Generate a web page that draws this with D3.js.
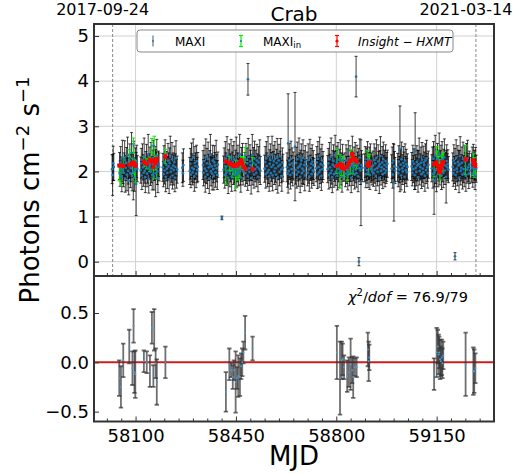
<!DOCTYPE html>
<html><head><meta charset="utf-8">
<script src="https://cdn.jsdelivr.net/npm/d3@7"></script>
<style>body{margin:0;background:#fff}svg{display:block;font-family:"DejaVu Sans",sans-serif}</style>
</head><body><svg id="c" width="531" height="474"></svg>
<script>
// ---------------- DATA ----------------
const title = "Crab";
const dateLabels = ["2017-09-24", "2021-03-14"];
const dateMJD = [58020, 59287];
const xTicks = [58100, 58450, 58800, 59150];
const xMinor = [57950,58000,58050,58150,58200,58250,58300,58350,58400,58500,58550,58600,58650,58700,58750,58850,58900,58950,59000,59050,59100,59200,59250,59300,59350];
const yTicksTop = [0,1,2,3,4,5];
const yTicksBot = [-0.5,0,0.5];
const chiText = "76.9/79";

// MAXI daily light curve: observing windows (start MJD), 2-day cadence
const maxiStep = 2;
const maxiSegStart = [58018,58044,58118,58195,58263,58289,58335,58407,58481,58550,58628,58656,58698,58730,58770,58830,58899,58928,58993,59014,59063,59133,59206,59272];
const maxiFlux = [
 [2.05,1.92,2.18,2.10],
 [2.12,1.95,2.20,2.05,1.88,2.31,2.02,1.97,2.15,2.26,1.84,2.08,2.19,1.93,2.36,2.01,1.79,2.11,2.24,1.96,2.07,2.41,1.90,2.14,1.99,2.28,1.86,2.03,2.17,1.72,2.22,2.06],
 [2.03,2.18,1.91,2.25,2.09,1.97,2.33,2.01,1.87,2.14,2.22,1.95,2.06,2.38,1.83,2.11,2.19,1.99,2.27,2.04,1.92,2.16,2.30,1.89,2.08,2.21,1.96,2.13,2.35,2.00,1.85,2.17,2.10],
 [2.09,1.94,2.21,2.02,2.30,1.88,2.15,2.06,1.97,2.24,2.11,1.83,2.18,2.35,1.99,2.07,2.27,1.91,2.13,2.03,2.20,1.86,2.10,2.29,1.95,2.04],
 [2.08,1.96,2.14],
 [2.01,2.17,1.93,2.26,2.08,1.98,2.32,2.05,1.89,2.19,2.12,1.95,2.23,2.03,2.10],
 [2.14,1.97,2.23,2.06,1.88,2.31,2.01,2.18,1.93,2.27,2.09,1.84,2.16,2.37,2.00,2.11,1.95,2.24,2.05,1.90,2.20,2.13,1.98,2.29,2.07,1.92,2.15],
 [2.04,2.19,1.92,2.28,2.10,1.97,2.35,2.02,1.86,2.16,2.24,1.95,2.08,2.31,1.89,2.13,2.21,1.99,2.27,2.05,1.91,2.17,2.33,1.94,2.09,2.22,1.98,2.12,2.38,2.01,1.87,2.18,2.07,2.25,2.00],
 [2.11,1.96,2.26,2.03,2.18,1.90,2.32,2.07,1.99,2.22,2.14,1.85,2.09,2.36,2.01,2.19,1.93,2.28,2.05,2.15,1.97,2.24,2.10,1.88,2.20,2.06,2.30,2.02],
 [2.06,2.21,1.94,2.29,2.12,1.98,2.34,2.03,1.89,2.17,2.25,1.96,2.10,2.37,1.91,2.14,2.23,2.00,2.28,2.07,1.93,2.19,2.31,1.87,2.11,2.24,1.99,2.15,2.33,2.04,1.90,2.20,2.08],
 [2.09,1.95,2.62,2.01,2.24,2.15,1.92,2.28,2.05,2.18,1.97,2.12],
 [2.55,2.03,2.19,1.93,2.27,2.08,1.99,2.33,2.11,1.88,2.16,2.24,1.96,2.06,2.30,2.01,2.14,1.91,2.21],
 [2.12,1.97,2.25,2.04,1.89,2.31,2.08,2.17,1.94,2.22,2.02,2.14,1.99],
 [2.07,2.20,1.93,2.28,2.10,1.98,2.34,2.03,2.16,1.90,2.24,2.05,2.13],
 [2.05,2.18,1.92,2.27,2.09,1.96,2.33,2.02,1.87,2.15,2.23,1.94,2.11,2.36,1.99,2.14,2.21,1.90,2.26,2.06,1.97,2.19,2.30,2.01,2.12,1.88,2.24,2.08],
 [2.10,1.95,2.24,2.03,2.17,1.91,2.29,2.06,1.98,2.21,2.12,1.86,2.15,2.35,2.00,2.09,2.19,1.93,2.26,2.04,1.96,2.22,2.13,1.89,2.18,2.07,2.31,2.02,1.75,2.14,2.08],
 [2.08,2.21,1.94,2.16,2.03,2.27,1.97,2.12,2.19,1.92,2.24,2.05,2.10,2.00],
 [2.13,1.96,2.25,2.04,2.18,1.90,2.30,2.07,1.99,2.22,2.11,1.85,2.16,2.34,2.01,2.09,2.20,1.94,2.27,2.05,2.14,1.97,2.23,2.02,2.10,2.17],
 [2.06,2.19,1.93,2.24,1.75,2.11,2.02],
 [2.09,1.96,2.22,2.04,2.50,2.15,1.91,2.27,2.07,2.00,2.19,2.12,1.88,2.24,2.03,2.16,1.98,2.10],
 [2.11,1.97,2.23,2.05,2.17,1.92,2.45,2.08,1.99,2.21,2.13,1.87,2.16,2.32,2.01,2.10,2.19,1.94,2.26,2.06,1.98,2.20,2.14,1.90,2.24,2.03,2.29,2.09,1.96,2.15],
 [2.07,2.20,1.94,2.28,1.80,1.98,2.35,2.03,1.89,2.17,2.25,1.95,2.12,2.37,2.00,2.14,2.22,1.91,2.27,2.06,1.97,2.19,2.31,2.02,2.13,1.88,2.23,2.09,2.16,2.04],
 [2.10,1.96,2.24,2.03,2.18,1.92,2.30,2.06,1.99,2.21,2.13,1.86,2.16,2.34,2.01,2.08,2.19,1.93,2.27,2.05,1.97,2.22,2.12,1.90,2.25,2.04,2.29,2.09,1.95,2.15,2.02],
 [2.08,2.19,1.95,2.23,2.04,2.14,1.91,2.17,2.06]
];
const maxiErr = [
 [.32,.45,.38,.30],
 [.30,.28,.35,.27,.33,.38,.29,.31,.26,.42,.30,.28,.34,.36,.40,.29,.31,.27,.37,.32,.30,.45,.33,.28,.62,.39,.30,.27,.35,.70,.36,.29],
 [.29,.33,.31,.36,.28,.30,.41,.27,.34,.30,.38,.29,.32,.44,.31,.28,.35,.30,.37,.29,.33,.31,.39,.30,.28,.34,.52,.30,.36,.29,.32,.28,.31],
 [.31,.28,.36,.30,.40,.33,.29,.27,.35,.38,.30,.32,.34,.43,.29,.31,.37,.30,.28,.33,.36,.31,.29,.39,.32,.30],
 [.33,.29,.36],
 [.30,.34,.29,.37,.31,.28,.40,.30,.33,.36,.29,.31,.35,.28,.32],
 [.32,.29,.35,.30,.34,.41,.28,.33,.31,.38,.29,.33,.30,.45,.32,.28,.36,.34,.30,.31,.37,.29,.33,.40,.30,.32,.28],
 [.30,.33,.29,.38,.31,.28,.42,.30,.35,.32,.37,.29,.31,.40,.33,.30,.36,.28,.39,.31,.34,.30,.43,.29,.32,.36,.30,.28,.44,.31,.33,.35,.29,.37,.30],
 [.31,.29,.36,.30,.34,.32,.41,.28,.30,.37,.33,.35,.29,.46,.31,.34,.30,.39,.28,.32,.31,.36,.29,.33,.35,.30,.40,.31],
 [.30,.34,.31,.37,.29,.32,.43,.30,.33,.31,.36,.29,.32,.41,.34,.30,.35,.29,.38,.31,.33,.30,.42,.35,.29,.36,.31,.30,.40,.29,.34,.32,.30],
 [.32,.30,1.10,.29,.38,.33,.31,.39,.30,.34,.29,.31],
 [1.20,.31,.34,.30,.38,.29,.32,.41,.30,.35,.31,.37,.29,.33,.40,.30,.32,.34,.36],
 [.31,.29,.36,.30,.33,.40,.28,.34,.31,.37,.29,.32,.30],
 [.30,.35,.31,.38,.29,.33,.42,.30,.34,.32,.36,.29,.31],
 [.30,.33,.31,.37,.29,.32,.41,.30,.34,.31,.36,.29,.33,.44,.30,.32,.35,.31,.38,.29,.33,.30,.40,.31,.29,.34,.36,.30],
 [.31,.29,.35,.30,.33,.32,.39,.28,.30,.36,.34,.33,.29,.43,.31,.30,.35,.32,.38,.29,.31,.36,.30,.34,.33,.29,.41,.31,.95,.32,.30],
 [.31,.34,.30,.36,.29,.39,.33,.30,.35,.32,.37,.29,.31,.30],
 [.32,.29,.36,.30,.34,.32,.40,.29,.31,.37,.33,.34,.30,.43,.31,.29,.35,.32,.38,.30,.33,.31,.36,.29,.32,.30],
 [.31,.35,.30,.38,.85,.33,.29],
 [.31,.30,.35,.29,.95,.33,.32,.38,.30,.29,.36,.31,.34,.37,.30,.33,.31,.29],
 [.31,.29,.35,.30,.33,.32,.85,.29,.31,.36,.34,.33,.30,.42,.31,.29,.35,.32,.38,.30,.31,.36,.29,.34,.37,.30,.40,.31,.33,.30],
 [.30,.34,.31,.38,.75,.32,.45,.30,.34,.31,.37,.29,.33,.48,.30,.32,.36,.31,.39,.29,.33,.30,.41,.31,.29,.58,.36,.30,.32,.29],
 [.31,.29,.35,.30,.33,.32,.40,.29,.31,.36,.34,.33,.30,.43,.31,.29,.35,.32,.38,.30,.31,.36,.29,.34,.37,.30,.40,.31,.33,.30,.29],
 [.32,.35,.30,.37,.29,.33,.31,.36,.30]
];
// isolated MAXI points
const maxiOutMJD  = [58401, 58492, 58869, 58879, 59214];
const maxiOutFlux = [0.97, 4.04, 4.10, 0.00, 0.12];
const maxiOutErr  = [0.04, 0.35, 0.45, 0.09, 0.08];

// Insight-HXMT observations and simultaneous MAXI (MAXI_in)
const hxmtMJD = [58043,58049,58057,58078,58089,58093,58096,58099,58129,58139,58150,58157,58162,58165,58170,58174,58204,
 58415,58427,58433,58439,58443,58449,58454,58458,58464,58468,58472,58476,58482,58508,
 58802,58813,58819,58822,58827,58838,58844,58850,58855,58859,58865,58871,58910,58913,58915,
 59141,59150,59154,59157,59159,59162,59164,59168,59170,59173,59251,59278,59281,59285];
const hxmtFlux = [2.13,2.14,2.12,2.15,2.18,2.20,2.16,2.12,2.21,2.17,2.25,2.22,2.10,2.24,2.19,2.27,2.33,
 2.22,2.19,2.16,2.13,2.12,2.14,2.13,2.16,2.20,2.24,2.18,2.10,2.06,2.05,
 2.12,2.16,2.08,2.14,2.06,2.10,2.18,2.24,2.38,2.30,2.26,2.22,2.16,2.12,2.19,
 2.16,2.20,2.12,2.05,2.00,1.98,2.04,2.13,2.18,2.21,2.27,2.24,2.18,2.13];
const hxmtErr = [.03,.03,.03,.03,.03,.03,.03,.03,.04,.03,.04,.03,.03,.04,.03,.04,.04,
 .03,.03,.03,.03,.03,.03,.03,.03,.03,.04,.03,.03,.03,.03,
 .03,.03,.03,.03,.03,.03,.04,.04,.04,.04,.04,.03,.04,.03,.04,
 .03,.03,.03,.03,.03,.03,.03,.03,.03,.03,.04,.04,.04,.04];
const maxiInFlux = [1.97,1.89,2.14,2.31,2.12,2.57,2.06,2.00,2.22,2.17,2.16,2.57,1.96,2.57,2.18,2.07,2.33,
 1.92,2.17,2.08,1.98,2.04,1.94,1.97,2.02,2.05,2.20,2.18,2.20,2.36,2.19,
 2.22,2.00,2.10,2.17,2.01,1.96,2.08,2.22,2.30,2.15,2.21,2.17,2.29,2.13,2.24,
 2.04,2.30,2.28,2.13,2.10,2.01,2.05,2.18,2.17,2.28,2.25,2.15,2.09,2.07];
// residuals (MAXI_in - HXMT) and their errors
const resid = [-0.16,-0.25,0.02,0.16,-0.06,0.37,-0.10,-0.12,0.01,0.00,-0.09,0.35,-0.14,0.33,-0.01,-0.20,0.00,
 -0.30,-0.02,-0.08,-0.15,-0.08,-0.20,-0.16,-0.14,-0.15,-0.04,0.00,0.10,0.30,0.14,
 0.10,-0.16,0.02,0.03,-0.05,-0.14,-0.10,-0.02,-0.08,-0.15,-0.05,-0.05,0.13,0.01,0.05,
 -0.12,0.10,0.16,0.08,0.10,0.03,0.01,0.05,-0.01,0.07,-0.02,-0.09,-0.09,-0.06];
const residErr = [0.18,0.21,0.17,0.17,0.17,0.17,0.21,0.24,0.11,0.11,0.16,0.16,0.11,0.21,0.15,0.23,0.16,
 0.20,0.16,0.07,0.12,0.10,0.31,0.11,0.21,0.19,0.13,0.14,0.11,0.17,0.12,
 0.27,0.37,0.19,0.16,0.12,0.16,0.15,0.26,0.13,0.21,0.09,0.10,0.17,0.20,0.13,
 0.16,0.25,0.17,0.20,0.16,0.20,0.15,0.18,0.15,0.14,0.32,0.24,0.22,0.15];

// ---------------- CHART ----------------
const svg = d3.select("#c");
const FONT = '"DejaVu Sans", sans-serif';
const L = 94, R = 494, T1 = 24, B1 = 276, T2 = 276, B2 = 421.5;
const x = d3.scaleLinear().domain([57955, 59350]).range([L, R]);
const y1 = d3.scaleLinear().domain([-0.317, 5.266]).range([B1, T1]);
const y2 = d3.scaleLinear().domain([-0.6, 0.875]).range([B2, T2]);

const defs = svg.append("defs");
defs.append("clipPath").attr("id","cp1").append("rect").attr("x",L).attr("y",T1).attr("width",R-L).attr("height",B1-T1);
defs.append("clipPath").attr("id","cp2").append("rect").attr("x",L).attr("y",T2).attr("width",R-L).attr("height",B2-T2);

// flatten MAXI
const maxi = [];
maxiSegStart.forEach((s, k) => {
  maxiFlux[k].forEach((f, i) => maxi.push({t: s + i * maxiStep, f, e: maxiErr[k][i]}));
});
maxiOutMJD.forEach((t, i) => maxi.push({t, f: maxiOutFlux[i], e: maxiOutErr[i]}));
const hx = hxmtMJD.map((t, i) => ({t, f: hxmtFlux[i], e: hxmtErr[i], mi: maxiInFlux[i], me: residErr[i], r: resid[i], re: residErr[i]}));

// ---- top panel ----
const g1 = svg.append("g");
g1.append("g").selectAll("line").data(yTicksTop).join("line")
  .attr("x1", L).attr("x2", R).attr("y1", d => y1(d)).attr("y2", d => y1(d))
  .attr("stroke", "#d0d0d0").attr("stroke-width", 1);
g1.append("g").selectAll("line").data(xTicks).join("line")
  .attr("x1", d => x(d)).attr("x2", d => x(d)).attr("y1", T1).attr("y2", B1)
  .attr("stroke", "#d0d0d0").attr("stroke-width", 1);
g1.append("g").selectAll("line").data(dateMJD).join("line")
  .attr("x1", d => x(d)).attr("x2", d => x(d)).attr("y1", T1).attr("y2", B1)
  .attr("stroke", "#888").attr("stroke-width", 1).attr("stroke-dasharray", "3,2");

const d1 = g1.append("g").attr("clip-path", "url(#cp1)");
function errbars(g, data, xs, ys, vf, ef, color, width, op, cap) {
  const gg = g.append("g").attr("stroke", color).attr("stroke-width", width).attr("stroke-opacity", op);
  gg.selectAll("line.b").data(data).join("line").attr("class","b")
    .attr("x1", d => xs(d.t)).attr("x2", d => xs(d.t))
    .attr("y1", d => ys(vf(d) - ef(d))).attr("y2", d => ys(vf(d) + ef(d)));
  if (cap > 0) {
    gg.selectAll("line.c1").data(data).join("line").attr("class","c1")
      .attr("x1", d => xs(d.t) - cap).attr("x2", d => xs(d.t) + cap)
      .attr("y1", d => ys(vf(d) - ef(d))).attr("y2", d => ys(vf(d) - ef(d)));
    gg.selectAll("line.c2").data(data).join("line").attr("class","c2")
      .attr("x1", d => xs(d.t) - cap).attr("x2", d => xs(d.t) + cap)
      .attr("y1", d => ys(vf(d) + ef(d))).attr("y2", d => ys(vf(d) + ef(d)));
  }
}
errbars(d1, maxi, x, y1, d => d.f, d => d.e, "#000", 1, 0.75, 1.5);
// MAXI_in bars below the MAXI points
errbars(d1, hx, x, y1, d => d.mi, d => d.me, "#00ee00", 1, 1, 1.8);
d1.append("g").selectAll("circle").data(maxi).join("circle")
  .attr("cx", d => x(d.t)).attr("cy", d => y1(d.f)).attr("r", 1.35).attr("fill", "#1f77b4");
d1.append("g").selectAll("circle").data(hx).join("circle")
  .attr("cx", d => x(d.t)).attr("cy", d => y1(d.mi)).attr("r", 1).attr("fill", "#1f77b4");
// Insight-HXMT
errbars(d1, hx, x, y1, d => d.f, d => d.e, "#ff0000", 1.2, 1, 2);
d1.append("g").selectAll("circle").data(hx).join("circle")
  .attr("cx", d => x(d.t)).attr("cy", d => y1(d.f)).attr("r", 2).attr("fill", "#ff0000");

// axes top
const axL1 = d3.axisLeft(y1).tickValues(yTicksTop).tickFormat(d3.format("d")).tickSize(-5).tickPadding(5);
const ga1 = svg.append("g").attr("transform", `translate(${L},0)`).call(axL1);
const axB1 = d3.axisBottom(x).tickValues(xTicks).tickFormat("").tickSize(-5);
const gb1 = svg.append("g").attr("transform", `translate(0,${B1})`).call(axB1);
const axB1m = d3.axisBottom(x).tickValues(xMinor.filter(v => v >= 57955 && v <= 59350)).tickFormat("").tickSize(-3);
const gb1m = svg.append("g").attr("transform", `translate(0,${B1})`).call(axB1m);

// legend
const lg = svg.append("g");
lg.append("rect").attr("x", 137).attr("y", 30).attr("width", 316).attr("height", 22).attr("rx", 3)
  .attr("fill", "#fff").attr("fill-opacity", 0.85).attr("stroke", "#888").attr("stroke-width", 1);
const legItems = [
  {xh: 153, col: "#000", op: 0.55, cap: 0, dot: "#1f77b4", r: 1, xt: 175},
  {xh: 241, col: "#00ee00", op: 1, cap: 2, dot: "#1f77b4", r: 1, xt: 263},
  {xh: 337, col: "#ff0000", op: 1, cap: 2, dot: "#ff0000", r: 1.6, xt: 358}
];
legItems.forEach(it => {
  lg.append("line").attr("x1", it.xh).attr("x2", it.xh).attr("y1", 35.5).attr("y2", 46.5)
    .attr("stroke", it.col).attr("stroke-opacity", it.op).attr("stroke-width", 1.2);
  if (it.cap) {
    [35.5, 46.5].forEach(yy => lg.append("line").attr("x1", it.xh - it.cap).attr("x2", it.xh + it.cap)
      .attr("y1", yy).attr("y2", yy).attr("stroke", it.col).attr("stroke-width", 1.2));
  }
  lg.append("circle").attr("cx", it.xh).attr("cy", 41).attr("r", it.r).attr("fill", it.dot);
});
lg.append("text").attr("x", 175).attr("y", 45.5).attr("font-size", 12).text("MAXI");
const lt2 = lg.append("text").attr("x", 263).attr("y", 45.5).attr("font-size", 12);
lt2.append("tspan").text("MAXI");
lt2.append("tspan").attr("font-size", 8.5).attr("dy", 2.5).text("in");
lg.append("text").attr("x", 358).attr("y", 45.5).attr("font-size", 12).attr("font-style", "italic").text("Insight − HXMT");

// ---- bottom panel ----
const d2 = svg.append("g").attr("clip-path", "url(#cp2)");
d2.append("line").attr("x1", L).attr("x2", R).attr("y1", y2(0)).attr("y2", y2(0))
  .attr("stroke", "#c8201e").attr("stroke-width", 2);
errbars(d2, hx, x, y2, d => d.r, d => d.re, "#333", 1.8, 0.7, 2.2);
d2.append("g").selectAll("circle").data(hx).join("circle")
  .attr("cx", d => x(d.t)).attr("cy", d => y2(d.r)).attr("r", 1).attr("fill", "#4a9ad8");

const axL2 = d3.axisLeft(y2).tickValues(yTicksBot).tickFormat(d3.format(".1f")).tickSize(-5).tickPadding(5);
const ga2 = svg.append("g").attr("transform", `translate(${L},0)`).call(axL2);
const axB2 = d3.axisBottom(x).tickValues(xTicks).tickFormat(d3.format("d")).tickSize(-5).tickPadding(8);
const gb2 = svg.append("g").attr("transform", `translate(0,${B2})`).call(axB2);
const axB2m = d3.axisBottom(x).tickValues(xMinor.filter(v => v >= 57955 && v <= 59350)).tickFormat("").tickSize(-3);
const gb2m = svg.append("g").attr("transform", `translate(0,${B2})`).call(axB2m);

[ga1, gb1, gb1m, ga2, gb2, gb2m].forEach(g => {
  g.select(".domain").remove();
  g.attr("font-family", FONT).attr("font-size", 18);
  g.selectAll(".tick line").attr("stroke", "#333").attr("stroke-width", 1);
  g.selectAll(".tick text").attr("fill", "#000");
});

// frames
[[T1, B1], [T2, B2]].forEach(([a, b]) => {
  svg.append("rect").attr("x", L).attr("y", a).attr("width", R - L).attr("height", b - a)
    .attr("fill", "none").attr("stroke", "#333").attr("stroke-width", 2);
});

// chi-square text
const ct = svg.append("text").attr("x", 348).attr("y", 302).attr("font-size", 14.5);
ct.append("tspan").attr("font-style", "italic").text("χ");
ct.append("tspan").attr("font-size", 10).attr("dy", -6).text("2");
ct.append("tspan").attr("dy", 6).text("/");
ct.append("tspan").attr("font-style", "italic").text("dof");
ct.append("tspan").text(" = " + chiText);

// titles
svg.append("text").attr("x", (L + R) / 2).attr("y", 21).attr("text-anchor", "middle").attr("font-size", 20).text(title);
dateLabels.forEach((s, i) => {
  svg.append("text").attr("x", x(dateMJD[i]) - 10).attr("y", 15).attr("text-anchor", "middle").attr("font-size", 16).text(s);
});
svg.append("text").attr("x", (L + R) / 2).attr("y", 465).attr("text-anchor", "middle").attr("font-size", 26).text("MJD");
const yl = svg.append("text").attr("transform", "translate(39,190) rotate(-90)").attr("text-anchor", "middle").attr("font-size", 26);
yl.append("tspan").text("Photons cm");
yl.append("tspan").attr("font-size", 18).attr("dy", -10).text("−2");
yl.append("tspan").attr("dy", 10).text(" s");
yl.append("tspan").attr("font-size", 18).attr("dy", -10).text("−1");
</script></body></html>
